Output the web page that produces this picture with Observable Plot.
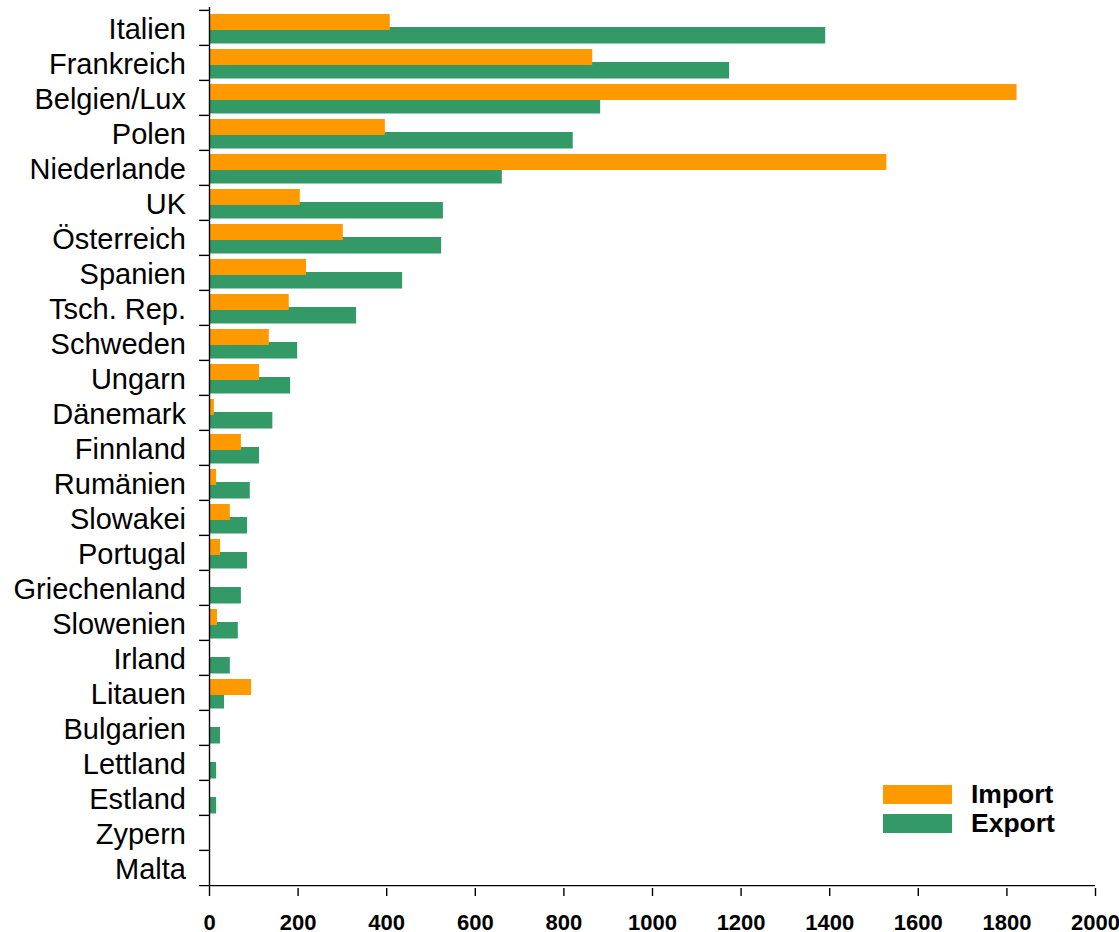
<!DOCTYPE html>
<html>
<head>
<meta charset="utf-8">
<script src="https://cdn.jsdelivr.net/npm/d3@7"></script>
<script src="https://cdn.jsdelivr.net/npm/@observablehq/plot@0.6"></script>
<style>
  html, body { margin: 0; padding: 0; background: white; }
  #wrap { position: relative; width: 1119px; height: 932px; font-family: "Liberation Sans", Arial, sans-serif; }
  .legend { position: absolute; left: 883px; font-weight: bold; font-size: 26.5px; color: black; display: flex; align-items: center; height: 19px; }
  .legend .sw { width: 69px; height: 19px; margin-right: 19px; }
</style>
</head>
<body>
<div id="wrap"></div>
<script>
const countries = ["Italien","Frankreich","Belgien/Lux","Polen","Niederlande","UK","Österreich","Spanien","Tsch. Rep.","Schweden","Ungarn","Dänemark","Finnland","Rumänien","Slowakei","Portugal","Griechenland","Slowenien","Irland","Litauen","Bulgarien","Lettland","Estland","Zypern","Malta"];
const importValues = [408, 865, 1823, 397, 1529, 205, 302, 219, 180, 135, 113, 11, 72, 16, 47, 25, 0, 18, 0, 95, 0, 0, 0, 0, 0];
const exportValues = [1391, 1174, 883, 821, 661, 528, 524, 436, 332, 199, 183, 143, 113, 92, 86, 86, 72, 65, 47, 34, 25, 16, 16, 0, 0];
const seriesNames = ["Import", "Export"];
const xTicks = [0, 200, 400, 600, 800, 1000, 1200, 1400, 1600, 1800, 2000];

const orange = "#FF9900";
const green = "#339966";

const data = countries.map((c, i) => ({country: c, import: importValues[i], export: exportValues[i]}));

const W = 1119, H = 932, mT = 7, mB = 44, mL = 209, mR = 24;
const bw = (H - mT - mB) / countries.length;

const chart = Plot.plot({
  width: W, height: H,
  marginTop: mT, marginBottom: mB, marginLeft: mL, marginRight: mR,
  style: {fontFamily: "'Liberation Sans', Arial, sans-serif", background: "white", color: "black", overflow: "visible"},
  x: {domain: [0, 2000], ticks: xTicks},
  y: {domain: countries, padding: 0},
  marks: [
    Plot.barX(data, {x: "export", y: "country", fill: green, insetTop: 17, insetBottom: 1.5}),
    Plot.barX(data, {x: "import", y: "country", fill: orange, insetTop: 4, insetBottom: 15}),
    Plot.ruleX([0], {stroke: "black", strokeWidth: 1.4}),
    Plot.ruleY(countries, {y: d => d, x1: 0, x2: 0, insetLeft: -10, dy: -bw / 2, stroke: "black", strokeWidth: 1.4}),
    Plot.ruleY([countries[countries.length - 1]], {y: d => d, x1: 0, x2: 2000, insetLeft: -10, dy: bw / 2, stroke: "black", strokeWidth: 1.4}),
    Plot.axisX({ticks: xTicks, tickSize: 8, tickPadding: 17.5, fontSize: 22, fontWeight: "bold", label: null, tickFormat: d3.format("d"), stroke: "black", strokeWidth: 1.4, fill: "black"}),
    Plot.axisY({tickSize: 0, tickPadding: 23.5, fontSize: 29, label: null, dy: 2, fill: "black"})
  ]
});

const wrap = document.getElementById("wrap");
wrap.appendChild(chart);

const legendColors = [orange, green];
const legendTops = [785, 814];
seriesNames.forEach((name, i) => {
  const row = document.createElement("div");
  row.className = "legend";
  row.style.top = legendTops[i] + "px";
  const sw = document.createElement("div");
  sw.className = "sw";
  sw.style.background = legendColors[i];
  const t = document.createElement("span");
  t.textContent = name;
  row.appendChild(sw);
  row.appendChild(t);
  wrap.appendChild(row);
});
</script>
</body>
</html>
